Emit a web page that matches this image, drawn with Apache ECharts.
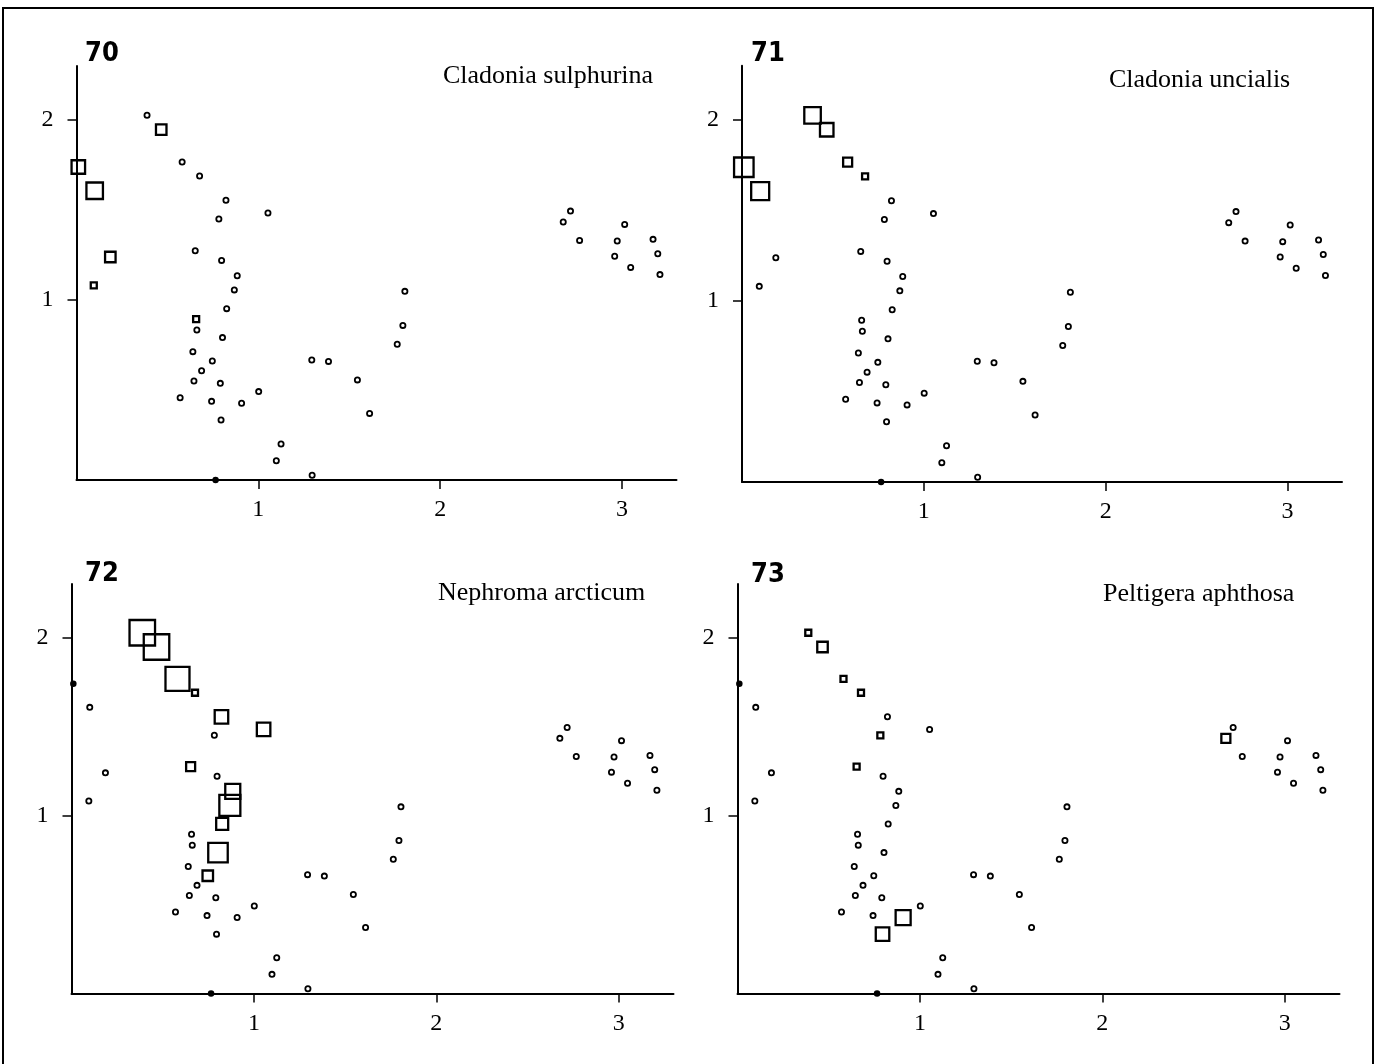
<!DOCTYPE html>
<html>
<head>
<meta charset="utf-8">
<script src="https://cdn.jsdelivr.net/npm/echarts@6/dist/echarts.min.js"></script>
<style>
html,body{margin:0;padding:0;background:#fff;}
#c{width:1379px;height:1064px;}
</style>
</head>
<body>
<div id="c"></div>
<script>
// Sample scores (ordination axes 1 and 2), shared by all four panels
const sampleX = [0.01,0.10,0.388,0.466,0.581,0.677,0.822,0.783,1.053,0.653,
  0.186,0.798,0.884,0.868,0.095,0.826,0.658,0.662,0.803,0.640,
  0.747,0.688,0.646,0.791,0.570,0.743,0.908,1.002,0.795,1.125,
  1.099,1.296,1.294,1.386,1.545,1.612,1.764,1.795,1.806,2.677,
  2.717,2.767,3.015,2.974,2.960,3.048,3.171,3.197,3.209,0.765];
const sampleY = [1.739,1.607,2.026,1.946,1.767,1.689,1.554,1.450,1.483,1.274,
  1.239,1.220,1.135,1.056,1.081,0.952,0.894,0.833,0.791,0.713,
  0.661,0.607,0.550,0.537,0.457,0.437,0.426,0.491,0.333,0.200,
  0.107,0.026,0.667,0.659,0.556,0.370,0.754,0.859,1.048,1.433,
  1.494,1.331,1.420,1.328,1.243,1.181,1.337,1.257,1.141,0.0];

// Panels
const panelNumbers = ['70','71','72','73'];
const speciesNames = ['Cladonia sulphurina','Cladonia uncialis','Nephroma arcticum','Peltigera aphthosa'];

// Samples where the species occurs, with its cover value
const occ70 = [0,1,3,10,14,16];
const cover70 = [7,9,5,5,2,2];
const occ71 = [0,1,2,3,4,5];
const cover71 = [11,10,9,7,4,2];
const occ72 = [2,3,4,5,6,8,9,12,13,15,18,20];
const cover72 = [15,15,14,2,7,7,4,8,12,6,11,5];
const occ73 = [2,3,4,5,7,9,26,28,39];
const cover73 = [2,5,2,2,2,2,8,7,4];

// Samples drawn as filled dots on the axes
const axisSamples = [0,49];

// Tick labels
const xTicks = [1,2,3];
const yTicks = [1,2];

const occs = [occ70,occ71,occ72,occ73];
const covers = [cover70,cover71,cover72,cover73];

const grids = [
  {left:76.5, top:66, width:600, height:414},
  {left:742, top:65.7, width:600, height:416.3},
  {left:71.5, top:584, width:602, height:409.4},
  {left:737.5, top:584, width:602, height:409.4}
];
const numPos = [[85,56],[751,56],[85,576],[751,577]];
const namePos = [[443,76],[1109,80],[438,593],[1103,594]];

const option = {
  animation:false,
  backgroundColor:'#fff',
  grid: grids.map(g=>Object.assign({containLabel:false},g)),
  xAxis: grids.map((g,i)=>({
    type:'value', gridIndex:i, min:0, max:3.3,
    axisLine:{show:true,onZero:false,lineStyle:{color:'#000',width:2}},
    axisTick:{show:true,length:9,customValues:xTicks,lineStyle:{color:'#000',width:1.5}},
    axisLabel:{show:true,customValues:xTicks,margin:18,color:'#000',fontFamily:'Liberation Serif',fontSize:24},
    splitLine:{show:false}
  })),
  yAxis: grids.map((g,i)=>({
    type:'value', gridIndex:i, min:0, max:2.3,
    axisLine:{show:true,onZero:false,lineStyle:{color:'#000',width:2}},
    axisTick:{show:true,length:9,customValues:yTicks,lineStyle:{color:'#000',width:1.5}},
    axisLabel:{show:true,customValues:yTicks,margin:23,color:'#000',fontFamily:'Liberation Serif',fontSize:24},
    splitLine:{show:false}
  })),
  series: [],
  graphic: []
};

for (let p=0;p<4;p++){
  const occ = occs[p], cov = covers[p];
  const circles = [], squares = [], dots = [];
  for (let i=0;i<sampleX.length;i++){
    const k = occ.indexOf(i);
    if (k>=0) squares.push([sampleX[i],sampleY[i],cov[k]]);
    else if (axisSamples.indexOf(i)>=0) dots.push([sampleX[i],sampleY[i]]);
    else circles.push([sampleX[i],sampleY[i]]);
  }
  option.series.push({
    type:'scatter', xAxisIndex:p, yAxisIndex:p, data:circles, symbol:'circle', symbolSize:5.2,
    itemStyle:{color:'#fff',borderColor:'#000',borderWidth:1.8,opacity:1}, z:2, silent:true
  });
  option.series.push({
    type:'scatter', xAxisIndex:p, yAxisIndex:p, data:dots, symbol:'circle', symbolSize:6.5,
    itemStyle:{color:'#000',opacity:1}, z:3, silent:true
  });
  option.series.push({
    type:'scatter', xAxisIndex:p, yAxisIndex:p, data:squares, symbol:'rect',
    symbolSize:function(d){return 3+1.5*d[2];},
    itemStyle:{color:'rgba(0,0,0,0)',borderColor:'#000',borderWidth:2.3,opacity:1}, z:4, silent:true
  });
  option.graphic.push({
    type:'text', left:numPos[p][0], top:numPos[p][1]-16,
    style:{text:panelNumbers[p], fill:'#000', font:'bold 27px "DejaVu Sans Condensed", "DejaVu Sans"'}
  });
  option.graphic.push({
    type:'text', x:namePos[p][0], y:namePos[p][1],
    style:{text:speciesNames[p], fill:'#000', font:'26px "Liberation Serif"', textVerticalAlign:'middle'}
  });
}
option.graphic.push({
  type:'rect', shape:{x:3,y:8,width:1370,height:1075},
  style:{fill:'none',stroke:'#000',lineWidth:2}
});

const chart = echarts.init(document.getElementById('c'));
chart.setOption(option);
</script>
</body>
</html>
